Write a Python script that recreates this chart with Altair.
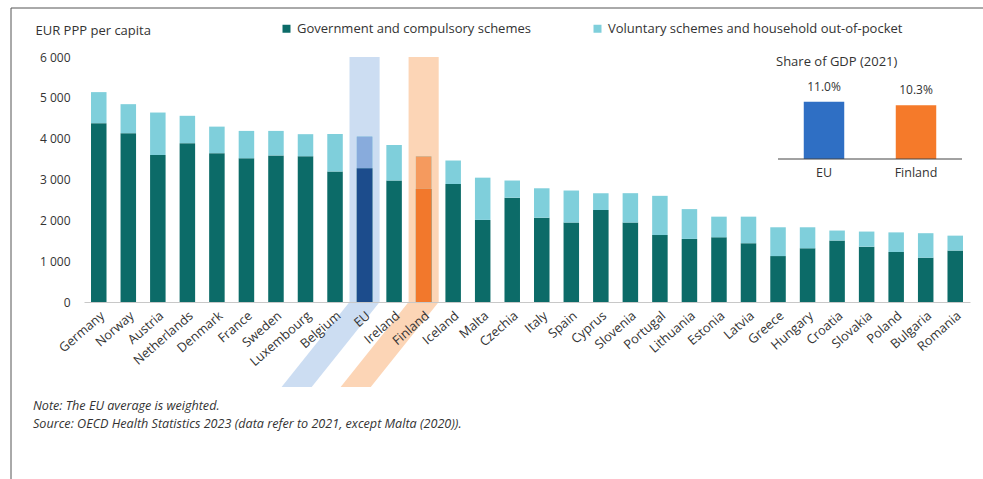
import altair as alt
import pandas as pd

# Current health expenditure per capita, EUR PPP (2021; Malta 2020)
countries = ["Germany", "Norway", "Austria", "Netherlands", "Denmark", "France",
             "Sweden", "Luxembourg", "Belgium", "EU", "Ireland", "Finland", "Iceland",
             "Malta", "Czechia", "Italy", "Spain", "Cyprus", "Slovenia", "Portugal",
             "Lithuania", "Estonia", "Latvia", "Greece", "Hungary", "Croatia",
             "Slovakia", "Poland", "Bulgaria", "Romania"]
government = [4380, 4135, 3600, 3890, 3645, 3520, 3590, 3570, 3195, 3275, 2975, 2770,
              2890, 2010, 2555, 2065, 1945, 2255, 1945, 1640, 1545, 1585, 1440, 1125,
              1315, 1505, 1355, 1225, 1085, 1260]
voluntary = [760, 710, 1040, 670, 650, 670, 600, 540, 920, 775, 870, 795,
             575, 1035, 420, 720, 785, 410, 720, 960, 730, 505, 650, 705,
             515, 245, 370, 480, 600, 365]

# Inset: health expenditure as share of GDP (2021)
gdp_labels = ["EU", "Finland"]
gdp_share = [11.0, 10.3]

GOV = "Government and compulsory schemes"
VOL = "Voluntary schemes and household out-of-pocket"
highlighted = ["EU", "Finland"]

FONT = "Open Sans"
TEXT = "#333333"
W, H = 886, 245

rows = []
for c, g, v in zip(countries, government, voluntary):
    rows.append({"country": c, "part": GOV, "lo": 0, "hi": g})
    rows.append({"country": c, "part": VOL, "lo": g, "hi": g + v})
bars_df = pd.DataFrame(rows)

# Highlight ribbons: a vertical band over the bar that bends down-left under its label
ribbon_rows = []
for name in highlighted:
    i = countries.index(name)
    for yv, shift in [(6000, 0.0), (0, 0.0), (-2080, -2.3)]:
        ribbon_rows.append({"who": name, "yv": yv,
                            "xa": i + shift - 0.51, "xb": i + shift + 0.51})
ribbon_df = pd.DataFrame(ribbon_rows)

x_main = alt.Scale(domain=countries, paddingInner=0.475, paddingOuter=0.2375)
y_main = alt.Scale(domain=[0, 6000], nice=False, zero=True)

ribbons = alt.Chart(ribbon_df).mark_area(orient="horizontal", opacity=0.55).encode(
    y=alt.Y("yv:Q", scale=alt.Scale(domain=[0, 6000], nice=False), axis=None),
    x=alt.X("xa:Q", scale=alt.Scale(domain=[-0.5, len(countries) - 0.5], nice=False, zero=False), axis=None),
    x2="xb:Q",
    color=alt.Color("who:N", scale=alt.Scale(domain=highlighted, range=["#a3c1e8", "#f9b27a"]), legend=None),
    detail="who:N",
)

main_bars = alt.Chart(bars_df).mark_bar().encode(
    x=alt.X("country:N", sort=countries, scale=x_main, title=None,
            axis=alt.Axis(labelAngle=-41, labelAlign="right", labelBaseline="top",
                          labelPadding=7, ticks=False, domainColor="#c8c8c8",
                          labelFont=FONT, labelFontSize=12.8, labelColor=TEXT, zindex=1)),
    y=alt.Y("lo:Q", scale=y_main,
            axis=alt.Axis(values=[0, 1000, 2000, 3000, 4000, 5000, 6000],
                          labelExpr="replace(format(datum.value, ','), ',', ' ')",
                          ticks=False, domain=False, grid=False, labelPadding=14,
                          labelFont=FONT, labelFontSize=12, labelColor=TEXT,
                          title="EUR PPP per capita", titleAngle=0, titleAlign="left",
                          titleBaseline="middle", titleX=-49, titleY=-27,
                          titleFont=FONT, titleFontSize=13, titleFontWeight="normal",
                          titleColor=TEXT)),
    y2="hi:Q",
    color=alt.Color("part:N", scale=alt.Scale(domain=[GOV, VOL], range=["#0c6b68", "#7fcfdb"]),
                    legend=alt.Legend(title=None, orient="none", direction="horizontal",
                                      legendX=196, legendY=-35, symbolType="square",
                                      symbolSize=64, symbolStrokeWidth=0, columnPadding=60,
                                      labelFont=FONT, labelFontSize=13, labelColor=TEXT,
                                      labelLimit=400, labelOffset=4)),
)

hl_color = {
    "condition": [
        {"test": f"datum.country === 'EU' && datum.part === '{GOV}'", "value": "#1c4c8c"},
        {"test": "datum.country === 'EU'", "value": "#88abdc"},
        {"test": f"datum.country === 'Finland' && datum.part === '{GOV}'", "value": "#f2782c"},
    ],
    "value": "#f59a5e",
}
hl_bars = alt.Chart(bars_df).transform_filter(
    alt.FieldOneOfPredicate(field="country", oneOf=highlighted)
).mark_bar().encode(
    x=alt.X("country:N", sort=countries, scale=x_main, axis=None),
    y=alt.Y("lo:Q", scale=y_main, axis=None),
    y2="hi:Q",
    color=hl_color,
)

# Inset panel
gdp_df = pd.DataFrame({"who": gdp_labels, "share": gdp_share})
x_in = alt.Scale(domain=gdp_labels, range=[694, 878], paddingInner=0.56, paddingOuter=0.28)
y_in = alt.Scale(domain=[0, 11.9], range=[102, 40], nice=False)

inset_bars = alt.Chart(gdp_df).mark_bar().encode(
    x=alt.X("who:N", sort=gdp_labels, scale=x_in, axis=None),
    y=alt.Y("share:Q", scale=y_in, axis=None),
    color=alt.Color("who:N", scale=alt.Scale(domain=gdp_labels, range=["#2f6fc4", "#f57a2a"]), legend=None),
)
inset_values = alt.Chart(gdp_df).transform_calculate(
    share_txt="format(datum.share, '.1f') + '%'"
).mark_text(
    baseline="bottom", dy=-8, font=FONT, fontSize=12, color=TEXT
).encode(
    x=alt.X("who:N", sort=gdp_labels, scale=x_in, axis=None),
    y=alt.Y("share:Q", scale=y_in, axis=None),
    text="share_txt:N",
)
inset_names = alt.Chart(gdp_df).transform_calculate(zero="0").mark_text(
    baseline="middle", dy=14, font=FONT, fontSize=12.5, color=TEXT
).encode(
    x=alt.X("who:N", sort=gdp_labels, scale=x_in, axis=None),
    y=alt.Y("zero:Q", scale=y_in, axis=None),
    text="who:N",
)
inset_base = alt.Chart(pd.DataFrame({"zero": [0]})).mark_rule(color="#444444", strokeWidth=1).encode(
    y=alt.Y("zero:Q", scale=y_in, axis=None),
    x=alt.value(694), x2=alt.value(878),
)

one = pd.DataFrame({"k": [0]})


def label(text, x, y, size=12.5, style="normal", align="left"):
    return alt.Chart(one).mark_text(
        align=align, baseline="middle", font=FONT, fontSize=size, fontStyle=style, color=TEXT
    ).encode(x=alt.value(x), y=alt.value(y), text=alt.value(text))


inset_title = label("Share of GDP (2021)", 692, 5, size=13)
note = label("Note: The EU average is weighted.", -51, 349, size=12.6, style="italic")
source = label("Source: OECD Health Statistics 2023 (data refer to 2021, except Malta (2020)).",
               -51, 367, size=12.6, style="italic")

frame_top = alt.Chart(one).mark_rule(color="#555555", strokeWidth=1).encode(
    x=alt.value(-73), x2=alt.value(W + 20), y=alt.value(-49))
frame_left = alt.Chart(one).mark_rule(color="#555555", strokeWidth=1).encode(
    x=alt.value(-73), y=alt.value(-49), y2=alt.value(H + 190))

chart = alt.layer(
    ribbons, main_bars, hl_bars, inset_bars, inset_base, inset_values, inset_names,
    inset_title, note, source, frame_top, frame_left,
).resolve_scale(x="independent", y="independent", color="independent").resolve_axis(
    x="independent", y="independent"
).properties(
    width=W, height=H, background="white",
    autosize=alt.AutoSizeParams(type="none"),
    padding={"left": 84, "top": 57, "right": 13, "bottom": 177},
).configure_view(stroke=None)

chart.save("out.html", embed_options={"renderer": "svg", "actions": False})
